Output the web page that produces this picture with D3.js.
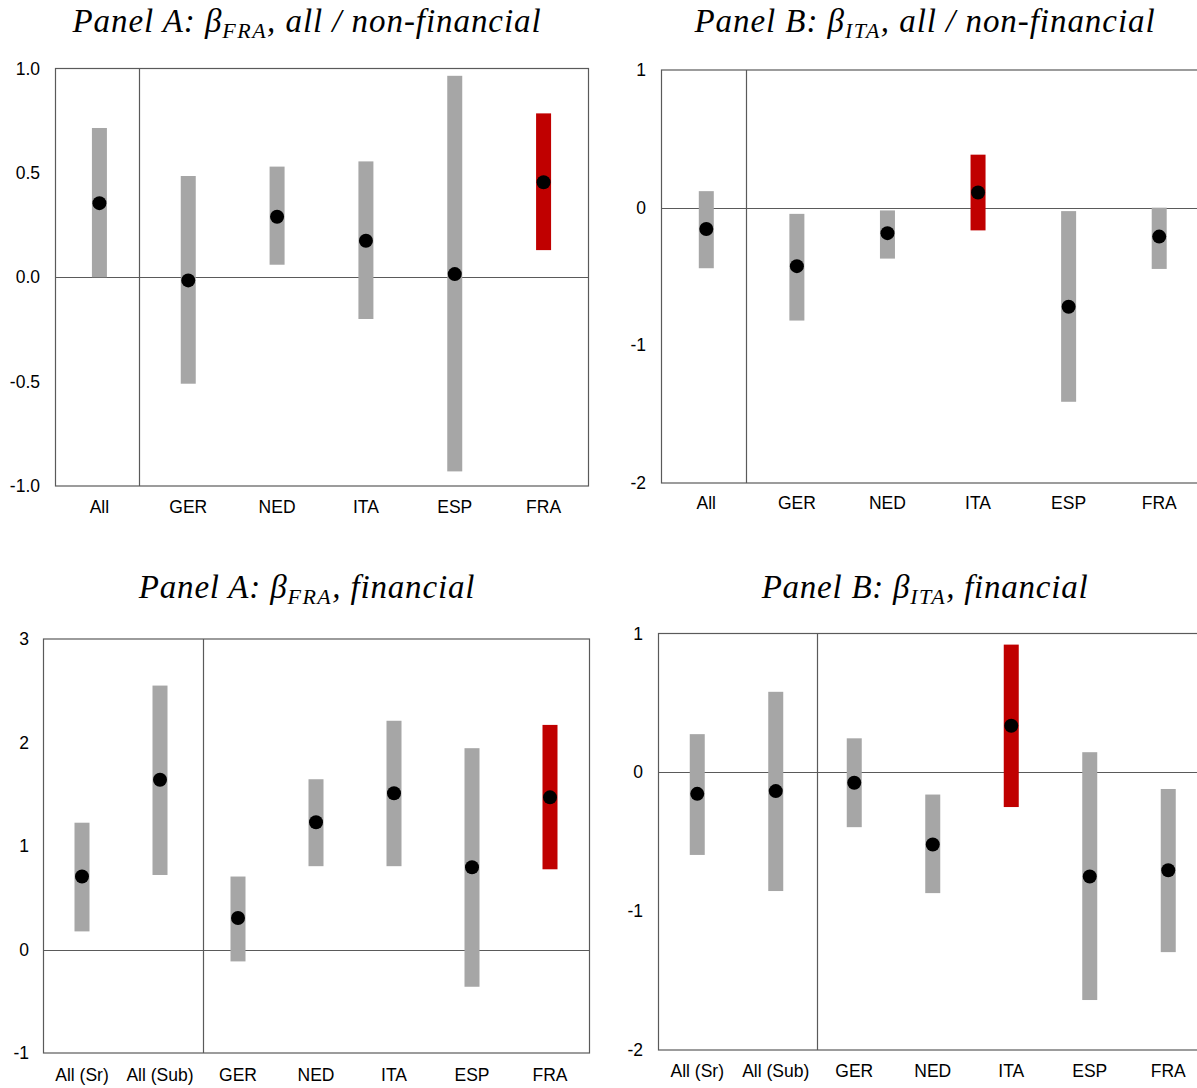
<!DOCTYPE html>
<html>
<head>
<meta charset="utf-8">
<script src="https://cdn.jsdelivr.net/npm/d3@7"></script>
<style>
  html, body { margin: 0; padding: 0; background: #fff; overflow: hidden; }
  svg { display: block; }
</style>
</head>
<body>
<svg id="chart" width="1197" height="1088"></svg>
<script>
// ---------- data ----------
const catsTop = ["All", "GER", "NED", "ITA", "ESP", "FRA"];
const catsBottom = ["All (Sr)", "All (Sub)", "GER", "NED", "ITA", "ESP", "FRA"];

// Panel A: beta_FRA, all / non-financial
const aAllLo  = [0.00, -0.51, 0.06, -0.20, -0.93, 0.13];
const aAllHi  = [0.715, 0.485, 0.53, 0.555, 0.965, 0.785];
const aAllEst = [0.355, -0.015, 0.29, 0.175, 0.015, 0.455];

// Panel B: beta_ITA, all / non-financial
const bAllLo  = [-0.44, -0.82, -0.37, -0.165, -1.41, -0.445];
const bAllHi  = [0.12, -0.045, -0.02, 0.385, -0.025, 0.0];
const bAllEst = [-0.155, -0.425, -0.185, 0.11, -0.72, -0.21];

// Panel A: beta_FRA, financial
const aFinLo  = [0.175, 0.72, -0.115, 0.805, 0.805, -0.36, 0.775];
const aFinHi  = [1.225, 2.55, 0.705, 1.645, 2.21, 1.945, 2.17];
const aFinEst = [0.705, 1.64, 0.305, 1.23, 1.51, 0.795, 1.47];

// Panel B: beta_ITA, financial
const bFinLo  = [-0.595, -0.855, -0.395, -0.87, -0.25, -1.64, -1.295];
const bFinHi  = [0.275, 0.58, 0.245, -0.16, 0.92, 0.145, -0.12];
const bFinEst = [-0.155, -0.135, -0.075, -0.52, 0.335, -0.75, -0.705];

const ticksA1 = [-1.0, -0.5, 0.0, 0.5, 1.0];
const ticksB1 = [-2, -1, 0, 1];
const ticksA2 = [-1, 0, 1, 2, 3];
const ticksB2 = [-2, -1, 0, 1];

const hyphen = f => (d => f(d).replace("\u2212", "-"));

const panels = [
  { title: ["Panel A: ", "β", "FRA", ", all / non-financial"], cats: catsTop, lo: aAllLo, hi: aAllHi, est: aAllEst,
    highlight: "FRA", domain: [-1, 1], ticks: ticksA1, fmt: hyphen(d3.format(".1f")) },
  { title: ["Panel B: ", "β", "ITA", ", all / non-financial"], cats: catsTop, lo: bAllLo, hi: bAllHi, est: bAllEst,
    highlight: "ITA", domain: [-2, 1], ticks: ticksB1, fmt: hyphen(d3.format("d")) },
  { title: ["Panel A: ", "β", "FRA", ", financial"], cats: catsBottom, lo: aFinLo, hi: aFinHi, est: aFinEst,
    highlight: "FRA", domain: [-1, 3], ticks: ticksA2, fmt: hyphen(d3.format("d")) },
  { title: ["Panel B: ", "β", "ITA", ", financial"], cats: catsBottom, lo: bFinLo, hi: bFinHi, est: bFinEst,
    highlight: "ITA", domain: [-2, 1], ticks: ticksB2, fmt: hyphen(d3.format("d")) }
];

// ---------- layout ----------
const layout = [
  { left: 55,  right: 588,  top: 68.5, bottom: 486,  frameRight: 588,  divider: 0.946, titleX: 307, titleY: 32, titleW: 473, tickX: 40,  catDy: 27 },
  { left: 661, right: 1204.5, top: 70, bottom: 483,  frameRight: 1220, divider: 0.94,  titleX: 925, titleY: 32, titleW: 465, tickX: 646, catDy: 26 },
  { left: 43,  right: 589,  top: 639,  bottom: 1053, frameRight: 589,  divider: 2.05,  titleX: 307, titleY: 598, titleW: 340, tickX: 29, catDy: 28 },
  { left: 658, right: 1207.5, top: 633.5, bottom: 1050, frameRight: 1220, divider: 2.02, titleX: 925, titleY: 598, titleW: 330, tickX: 643, catDy: 27 }
];

const svg = d3.select("#chart");
const GRAY = "#a6a6a6", RED = "#c00000", LINE = "#5a5a5a";
const sansFont = "'Liberation Sans', Arial, sans-serif";
const serifFont = "'Liberation Serif', 'DejaVu Serif', serif";

panels.forEach((p, i) => {
  const L = layout[i];
  const g = svg.append("g");

  const x = d3.scaleBand().domain(p.cats).range([L.left, L.right]).padding(0);
  const y = d3.scaleLinear().domain(p.domain).range([L.bottom, L.top]);
  const step = x.step();

  // frame
  g.append("rect")
    .attr("x", L.left + 0.5).attr("y", y(p.domain[1]))
    .attr("width", L.frameRight - L.left).attr("height", y(p.domain[0]) - y(p.domain[1]))
    .attr("fill", "none").attr("stroke", LINE).attr("stroke-width", 1.2);

  // zero line
  g.append("line")
    .attr("x1", L.left).attr("x2", L.frameRight)
    .attr("y1", Math.round(y(0)) + 0.5).attr("y2", Math.round(y(0)) + 0.5)
    .attr("stroke", LINE).attr("stroke-width", 1);

  // divider
  const dx = Math.round(L.left + step * L.divider) + 0.5;
  g.append("line")
    .attr("x1", dx).attr("x2", dx)
    .attr("y1", y(p.domain[1])).attr("y2", y(p.domain[0]))
    .attr("stroke", LINE).attr("stroke-width", 1.2);

  // y tick labels
  g.selectAll("text.ytick").data(p.ticks).enter().append("text")
    .attr("class", "ytick")
    .attr("x", L.tickX).attr("y", d => y(d))
    .attr("dy", "0.35em")
    .attr("text-anchor", "end")
    .attr("font-family", sansFont).attr("font-size", 17.5)
    .attr("fill", "#000")
    .text(d => p.fmt(d));

  // category labels
  g.selectAll("text.xcat").data(p.cats).enter().append("text")
    .attr("class", "xcat")
    .attr("x", d => x(d) + step / 2)
    .attr("y", L.bottom + L.catDy)
    .attr("text-anchor", "middle")
    .attr("font-family", sansFont).attr("font-size", 17.5)
    .attr("fill", "#000")
    .text(d => d);

  // bars (confidence intervals)
  const barW = 15;
  g.selectAll("rect.ci").data(p.cats).enter().append("rect")
    .attr("class", "ci")
    .attr("x", d => x(d) + step / 2 - barW / 2)
    .attr("y", (d, k) => y(p.hi[k]))
    .attr("width", barW)
    .attr("height", (d, k) => y(p.lo[k]) - y(p.hi[k]))
    .attr("fill", d => d === p.highlight ? RED : GRAY);

  // point estimates
  g.selectAll("circle.est").data(p.cats).enter().append("circle")
    .attr("class", "est")
    .attr("cx", d => x(d) + step / 2)
    .attr("cy", (d, k) => y(p.est[k]))
    .attr("r", 7)
    .attr("fill", "#000");

  // title
  const t = g.append("text")
    .attr("x", L.titleX).attr("y", L.titleY)
    .attr("text-anchor", "middle")
    .attr("font-family", serifFont).attr("font-style", "italic")
    .attr("font-size", 33).attr("fill", "#000");
  t.append("tspan").text(p.title[0]);
  t.append("tspan").text(p.title[1]);
  t.append("tspan").attr("font-size", 22).attr("dy", 6).attr("letter-spacing", 1.5).text(p.title[2]);
  t.append("tspan").attr("dy", -6).text(p.title[3]);
  // stretch title to the reference width with letter spacing
  const w = t.node().getBBox().width;
  const n = p.title.join("").length;
  const ls = Math.max(0, (L.titleW - w) / n);
  t.attr("letter-spacing", ls);
});
</script>
</body>
</html>
